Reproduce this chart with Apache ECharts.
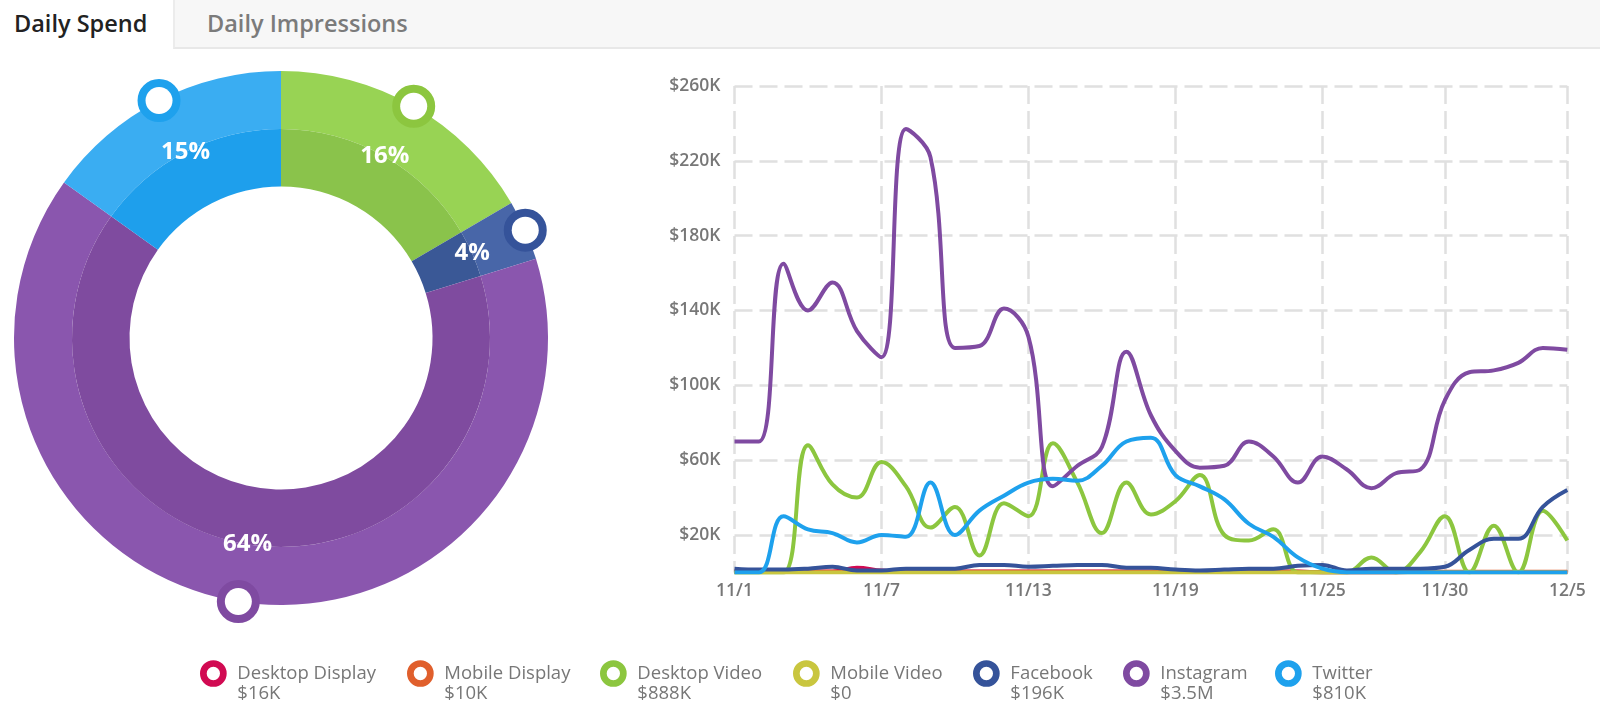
<!DOCTYPE html>
<html>
<head>
<meta charset="utf-8">
<script src="https://cdn.jsdelivr.net/npm/echarts@6/dist/echarts.min.js"></script>
<style>
html,body{margin:0;padding:0;background:#fff;width:1600px;height:727px;overflow:hidden;font-family:'Open Sans',sans-serif;}
#tabs{position:absolute;left:0;top:0;width:1600px;height:49px;z-index:2;}
.tab{position:absolute;top:0;height:47px;line-height:46px;font-size:23.5px;font-weight:600;box-sizing:content-box;}
#t1{left:0;width:173px;background:#fff;color:#222;}
#t1 span{margin-left:14px;}
#t2{left:173px;right:0;background:#f7f7f7;border-left:2px solid #ececec;border-bottom:2px solid #e8e8e8;color:#7b7b7b;}
#t2 span{margin-left:32px;}
#chart{position:absolute;left:0;top:0;width:1600px;height:727px;}
</style>
</head>
<body>
<div id="tabs">
  <div class="tab" id="t1"><span>Daily Spend</span></div>
  <div class="tab" id="t2"><span>Daily Impressions</span></div>
</div>
<div id="chart"></div>
<script>
// ---------- data ----------
const dates = ['11/1','11/2','11/3','11/4','11/5','11/6','11/7','11/8','11/9','11/10',
  '11/11','11/12','11/13','11/14','11/15','11/16','11/17','11/18','11/19','11/20',
  '11/21','11/22','11/23','11/24','11/25','11/26','11/27','11/28','11/29','11/30',
  '12/1','12/2','12/3','12/4','12/5'];
const xTickLabels = ['11/1','11/7','11/13','11/19','11/25','11/30','12/5'];
const yTickValues = [20, 60, 100, 140, 180, 220, 260]; // $K
const channels = ['Desktop Display','Mobile Display','Desktop Video','Mobile Video','Facebook','Instagram','Twitter'];
const totalsK = [16, 10, 888, 0, 196, 3470, 810];

const desktopDisplay = [0.5,0.5,1,0.5,0.5,2.5,1,0.5,0.5,0.5,0.5,0.5,0.5,0.5,0.5,0.5,0.5,0.5,0.5,0.5,0.5,0.5,0.5,0.5,0,0,0,0,0.3,0.2,0.2,0.2,0.2,0.2,0.2];
const mobileDisplay  = [0.3,0.3,0.3,0.4,0.3,0.2,0.3,0.3,0.3,0.3,0.3,0.3,0.3,0.3,0.3,0.3,0.3,0.3,0.3,0.3,0.3,0.3,0.3,0.3,0.2,0.2,0.2,0.2,0.3,0.3,0.3,0.3,0.3,0.3,0.3];
const desktopVideo   = [0,0,0,68,47,40,59,46,24,35,9,37,30,69,48,21,48,31,38,52,20,17,23,0,0,0,8,0,11,30,0,25,0,33,17];
const mobileVideo    = [0,0,0,0,0,0,0,0,0,0,0,0,0,0,0,0,0,0,0,0,0,0,0,0,0,0,0,0,0,0,0,0,0,0,0];
const facebook       = [2,1.5,1.5,2,3,1,1,2,2,2,4,4,3,3.5,4,4,2.5,2.5,1.5,1,1.5,2,2,3.5,4,1,2,2,2,3,12,18,18,35,44];
const instagram      = [70,70,165,140,155,129,115,237,222,120,121,141,126,46,57,67,118,84,65,56,57,70,62,48,62,55,45,53,55,92,107,108,112,120,119];
const twitter        = [0,0,30,23,21,16,20,19,48,20,33,41,48,50,49,57,70,72,52,46,39,26,19,8,2,0,0,0,0,0,0,0,0,0,0];
const seriesValues = [desktopDisplay, mobileDisplay, desktopVideo, mobileVideo, facebook, instagram, twitter];

// ---------- styles ----------
const FONT = "'Open Sans', sans-serif";
const lineColors  = ['#d10a52','#e05f2c','#8cc63f','#c9c63f','#35539a','#7f4aa1','#1ea1ed'];
const outerColors = ['#d10a52','#e05f2c','#98d354','#c9c63f','#4866a8','#8a56ae','#3aadf2'];
const innerColors = ['#c0084a','#d05528','#8ac34b','#b9b63a','#3a5896','#7f4b9f','#1e9fec'];
const legendCenters = [219, 426, 619, 812, 992, 1142, 1294];

const total = totalsK.reduce((a, b) => a + b, 0);
const fmtTotal = v => v === 0 ? '$0' : (v >= 1000 ? '$' + (v / 1000).toFixed(1) + 'M' : '$' + v + 'K');
const pct = v => Math.round(v / total * 100);
const shown = channels.map((n, i) => i).filter(i => pct(totalsK[i]) >= 1);
const pieCenter = [281, 338];
const gridStyle = {type: [18, 7], color: '#e0e0e0', width: 2.5};

const chart = echarts.init(document.getElementById('chart'), null, {renderer: 'canvas'});

const lineSeries = channels.map((name, i) => ({
  name, type: 'line', data: seriesValues[i], smooth: 0.4, symbol: 'none',
  lineStyle: {width: 4, color: lineColors[i]}, itemStyle: {color: lineColors[i]},
  emphasis: {disabled: true}, z: 3 + i
}));

const pieBase = {
  type: 'pie', center: pieCenter, startAngle: 90, clockwise: true,
  avoidLabelOverlap: false, silent: true, emphasis: {disabled: true},
  labelLine: {show: false}, legendHoverLink: false
};

const outerRing = Object.assign({}, pieBase, {
  name: 'outer', radius: [209, 267], z: 1,
  label: {show: false},
  data: shown.map(i => ({name: channels[i], value: totalsK[i], itemStyle: {color: outerColors[i]}}))
});
const innerRing = Object.assign({}, pieBase, {
  name: 'inner', radius: [151.5, 209], z: 1,
  label: {show: false},
  data: shown.map(i => ({name: channels[i], value: totalsK[i], itemStyle: {color: innerColors[i]}}))
});
const labelRing = Object.assign({}, pieBase, {
  name: 'pct', radius: [151.5, 260.5], z: 2,
  data: shown.map(i => ({
    name: channels[i], value: totalsK[i], itemStyle: {color: 'rgba(0,0,0,0)'},
    label: {show: true, position: 'inside', formatter: pct(totalsK[i]) + '%',
      color: '#fff', fontSize: 24, fontWeight: 'bold', fontFamily: FONT}
  }))
});
const markerRing = Object.assign({}, pieBase, {
  name: 'marker', radius: [254, 274], z: 2,
  data: shown.map(i => ({
    name: channels[i], value: totalsK[i], itemStyle: {color: 'rgba(0,0,0,0)'},
    label: {show: true, position: 'inside', formatter: '{m| }',
      rich: {m: {width: 27, height: 27, borderRadius: 20, borderWidth: 8,
        borderColor: lineColors[i], backgroundColor: '#fff', fontSize: 1}}}
  }))
});

const legends = channels.map((n, i) => ({
  left: legendCenters[i] - 19, top: 644, padding: 0,
  icon: 'circle', itemWidth: 38, itemHeight: 20, selectedMode: false,
  data: [{name: n, itemStyle: {color: '#fff', borderColor: lineColors[i], borderWidth: 6.7}}],
  formatter: name => '{e| }\n{n|' + name + '}\n{v|' + fmtTotal(totalsK[i]) + '}',
  textStyle: {
    rich: {
      e: {fontSize: 18.5, lineHeight: 20},
      n: {fontSize: 18.5, lineHeight: 20, color: '#777', fontFamily: FONT},
      v: {fontSize: 18.5, lineHeight: 20, color: '#777', fontFamily: FONT}
    }
  }
}));

chart.setOption({
  animation: false,
  backgroundColor: '#fff',
  legend: legends,
  grid: {left: 734.5, right: 32.7, top: 86, bottom: 154.6},
  xAxis: {
    type: 'category', data: dates, boundaryGap: false,
    axisLine: {show: false}, axisTick: {show: false},
    axisLabel: {interval: (i, v) => xTickLabels.includes(v), margin: 10,
      color: '#777', fontSize: 17.5, fontWeight: 600, fontFamily: FONT},
    splitLine: {show: true, interval: (i, v) => xTickLabels.includes(v), lineStyle: gridStyle}
  },
  yAxis: {
    type: 'value', min: 0, max: 260,
    axisLine: {show: false},
    axisTick: {show: false, customValues: yTickValues},
    axisLabel: {customValues: yTickValues, formatter: v => '$' + v + 'K', margin: 14,
      color: '#777', fontSize: 17.5, fontWeight: 600, fontFamily: FONT},
    splitLine: {show: true, lineStyle: gridStyle}
  },
  series: [outerRing, innerRing, labelRing, markerRing].concat(lineSeries)
});
</script>
</body>
</html>
